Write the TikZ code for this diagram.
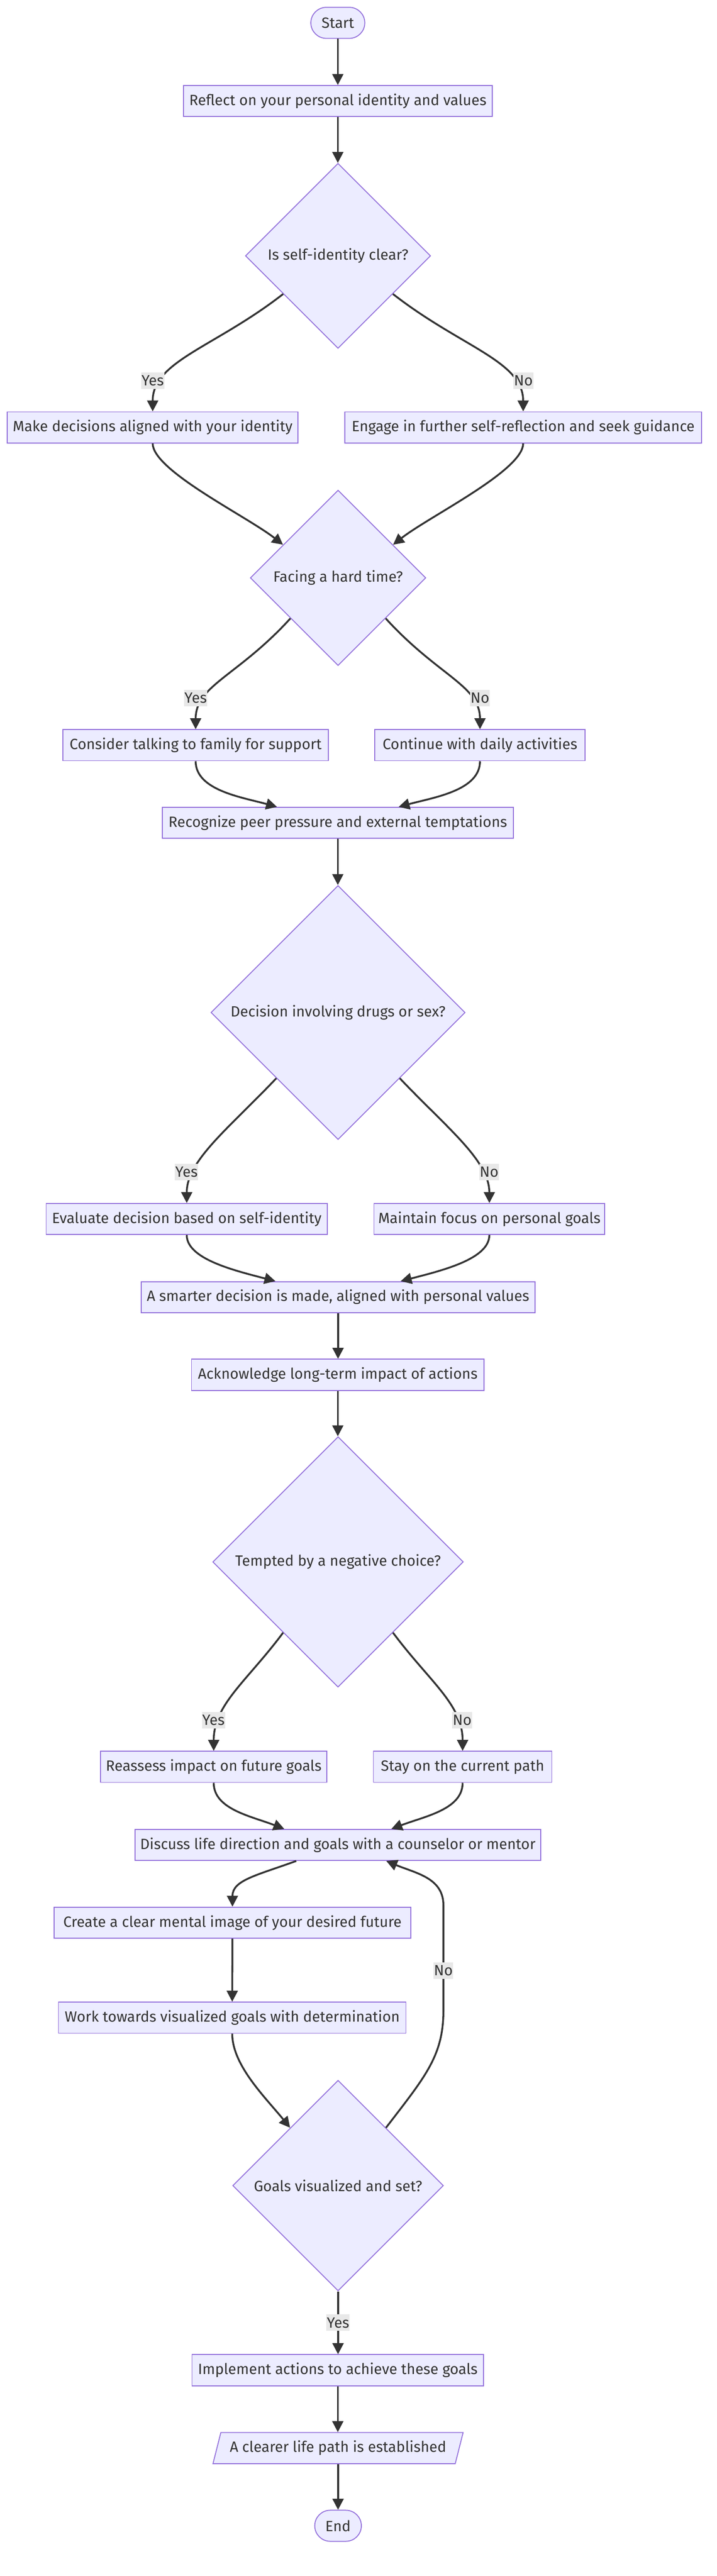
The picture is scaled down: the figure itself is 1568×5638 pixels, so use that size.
\documentclass[tikz,border=0pt]{standalone}
\usepackage{fontspec}
\setmainfont{Fira Sans}
\usetikzlibrary{arrows.meta,calc,shapes.geometric,shapes.misc}
\definecolor{nodefill}{HTML}{ECECFF}
\definecolor{nodeline}{HTML}{9370DB}
\definecolor{txt}{HTML}{333333}
\definecolor{edgecol}{HTML}{333333}
\definecolor{lblbg}{HTML}{E8E8E8}
\begin{document}
\begin{tikzpicture}[x=1pt,y=-1pt,
  base/.style={draw=nodeline, line width=2pt, fill=nodefill, text=txt,
    font=\fontsize{32.5}{38}\selectfont, inner sep=0pt},
  box/.style={base, rectangle, minimum height=68pt},
  stadium/.style={base, rounded rectangle, minimum height=68pt},
  dec/.style={base, diamond, aspect=1},
  iobox/.style={base, trapezium, trapezium left angle=63.8, trapezium right angle=116.2,
    trapezium stretches=true, minimum height=68pt},
  edge/.style={draw=edgecol, line width=4pt, -{Triangle[length=24pt,width=24pt]}},
  lbl/.style={fill=lblbg, text=txt, font=\fontsize{32.5}{38}\selectfont,
    inner xsep=1pt, inner ysep=0pt, minimum height=36pt}
]
\fill[white] (0,0) rectangle (1568,5638);
\useasboundingbox (0,0) rectangle (1568,5638);

% nodes
\node[stadium, minimum width=118pt] (start) at (739,50) {Start};
\node[box, minimum width=676pt] (reflect) at (739,221) {Reflect on your personal identity and values};
\node[dec, minimum width=405pt, minimum height=405pt] (d1) at (739.5,560) {\makebox[0pt]{Is self-identity clear?}};
\node[box, minimum width=636pt] (make) at (334,935.5) {Make decisions aligned with your identity};
\node[box, minimum width=781pt] (engage) at (1144.5,935.5) {Engage in further self-reflection and seek guidance};
\node[dec, minimum width=384pt, minimum height=384pt] (d2) at (739.5,1264.7) {\makebox[0pt]{Facing a hard time?}};
\node[box, minimum width=580pt] (consider) at (428,1631) {Consider talking to family for support};
\node[box, minimum width=460pt] (cont) at (1050,1631) {Continue with daily activities};
\node[box, minimum width=768pt] (recognize) at (739,1801) {Recognize peer pressure and external temptations};
\node[dec, minimum width=556pt, minimum height=556pt] (d3) at (739.5,2216) {\makebox[0pt]{Decision involving drugs or sex?}};
\node[box, minimum width=615pt] (evaluate) at (408.5,2668) {Evaluate decision based on self-identity};
\node[box, minimum width=505pt] (maintain) at (1070.5,2668) {Maintain focus on personal goals};
\node[box, minimum width=861pt] (smarter) at (739.5,2839) {A smarter decision is made, aligned with personal values};
\node[box, minimum width=640pt] (ack) at (739,3009) {Acknowledge long-term impact of actions};
\node[dec, minimum width=548pt, minimum height=548pt] (d4) at (739.5,3418.5) {\makebox[0pt]{Tempted by a negative choice?}};
\node[box, minimum width=495pt] (reassess) at (467.5,3867) {Reassess impact on future goals};
\node[box, minimum width=390pt] (stay) at (1012,3867) {Stay on the current path};
\node[box, minimum width=888pt] (discuss) at (739,4038) {Discuss life direction and goals with a counselor or mentor};
\node[box, minimum width=781pt] (create) at (508.5,4208) {Create a clear mental image of your desired future};
\node[box, minimum width=760pt] (work) at (508,4416) {Work towards visualized goals with determination};
\node[dec, minimum width=461pt, minimum height=461pt] (d5) at (739.5,4783.5) {\makebox[0pt]{Goals visualized and set?}};
\node[box, minimum width=638pt] (implement) at (739,5187.5) {Implement actions to achieve these goals};
\node[iobox, minimum width=550pt] (para) at (739.5,5358) {A clearer life path is established};
\node[stadium, minimum width=102pt] (end) at (739.5,5528) {End};

% edges
\draw[edge] (start.south) -- (reflect.north);
\draw[edge] (reflect.south) -- (reflect.south |- d1.north);
\draw[edge] ($(d1.west)!0.41!(d1.south)$) .. controls (470,760) and (334,790) .. (make.north);
\draw[edge] ($(d1.east)!0.41!(d1.south)$) .. controls (1009,760) and (1144.5,790) .. (engage.north);
\draw[edge] (make.south) .. controls (334,1030) and (540,1130) .. ($(d2.west)!0.376!(d2.north)$);
\draw[edge] (engage.south) .. controls (1144.5,1030) and (939,1130) .. ($(d2.east)!0.376!(d2.north)$);
\draw[edge] ($(d2.west)!0.46!(d2.south)$) .. controls (520,1480) and (428,1500) .. (consider.north);
\draw[edge] ($(d2.east)!0.46!(d2.south)$) .. controls (959,1480) and (1050,1500) .. (cont.north);
\draw[edge] (consider.south) .. controls (428,1730) and (530,1745) .. ($(recognize.north)+(-133,0)$);
\draw[edge] (cont.south) .. controls (1050,1730) and (950,1745) .. ($(recognize.north)+(133,0)$);
\draw[edge] (recognize.south) -- (recognize.south |- d3.north);
\draw[edge] ($(d3.west)!0.516!(d3.south)$) .. controls (500,2470) and (408.5,2540) .. (evaluate.north);
\draw[edge] ($(d3.east)!0.516!(d3.south)$) .. controls (979,2470) and (1070.5,2540) .. (maintain.north);
\draw[edge] (evaluate.south) .. controls (408.5,2755) and (510,2780) .. ($(smarter.north)+(-137,0)$);
\draw[edge] (maintain.south) .. controls (1070.5,2755) and (970,2780) .. ($(smarter.north)+(137,0)$);
\draw[edge] (smarter.south) -- (smarter.south |- ack.north);
\draw[edge] (ack.south) -- (ack.south |- d4.north);
\draw[edge] ($(d4.west)!0.563!(d4.south)$) .. controls (540,3680) and (467.5,3730) .. (reassess.north);
\draw[edge] ($(d4.east)!0.563!(d4.south)$) .. controls (939,3680) and (1012,3730) .. (stay.north);
\draw[edge] (reassess.south) .. controls (467.5,3960) and (550,3975) .. ($(discuss.north)+(-117,0)$);
\draw[edge] (stay.south) .. controls (1012,3960) and (930,3975) .. ($(discuss.north)+(117,0)$);
\draw[edge] ($(discuss.south)+(-91,0)$) .. controls (560,4105) and (508.5,4115) .. (create.north);
\draw[edge] (create.south) -- (work.north);
\draw[edge] (work.south) .. controls (508,4520) and (580,4590) .. ($(d5.west)!0.547!(d5.north)$);
\coordinate (loopa) at (970,4400);
\coordinate (loopb) at (970,4170);
\draw[edge] ($(d5.east)!0.547!(d5.north)$) .. controls (930,4545) and (970,4500) .. (loopa) -- (loopb)
  .. controls (970,4110) and (910,4100) .. ($(discuss.south)+(106,0)$);
\draw[edge] (d5.south) -- (d5.south |- implement.north);
\draw[edge] (implement.south) -- (implement.south |- para.north);
\draw[edge] (para.south) -- (para.south |- end.north);

% edge labels
\node[lbl] (l1y) at (334,833.4) {Yes};
\node[lbl] (l1n) at (1145,833.4) {No};
\node[lbl] (l2y) at (428,1528) {Yes};
\node[lbl] (l2n) at (1050,1528) {No};
\node[lbl] (l3y) at (408,2565) {Yes};
\node[lbl] (l3n) at (1070,2565) {No};
\node[lbl] (l4y) at (467,3765) {Yes};
\node[lbl] (l4n) at (1011,3765) {No};
\node[lbl] (l5n) at (970,4313) {No};
\node[lbl] (l5y) at (739.5,5083.6) {Yes};
\end{tikzpicture}
\end{document}
